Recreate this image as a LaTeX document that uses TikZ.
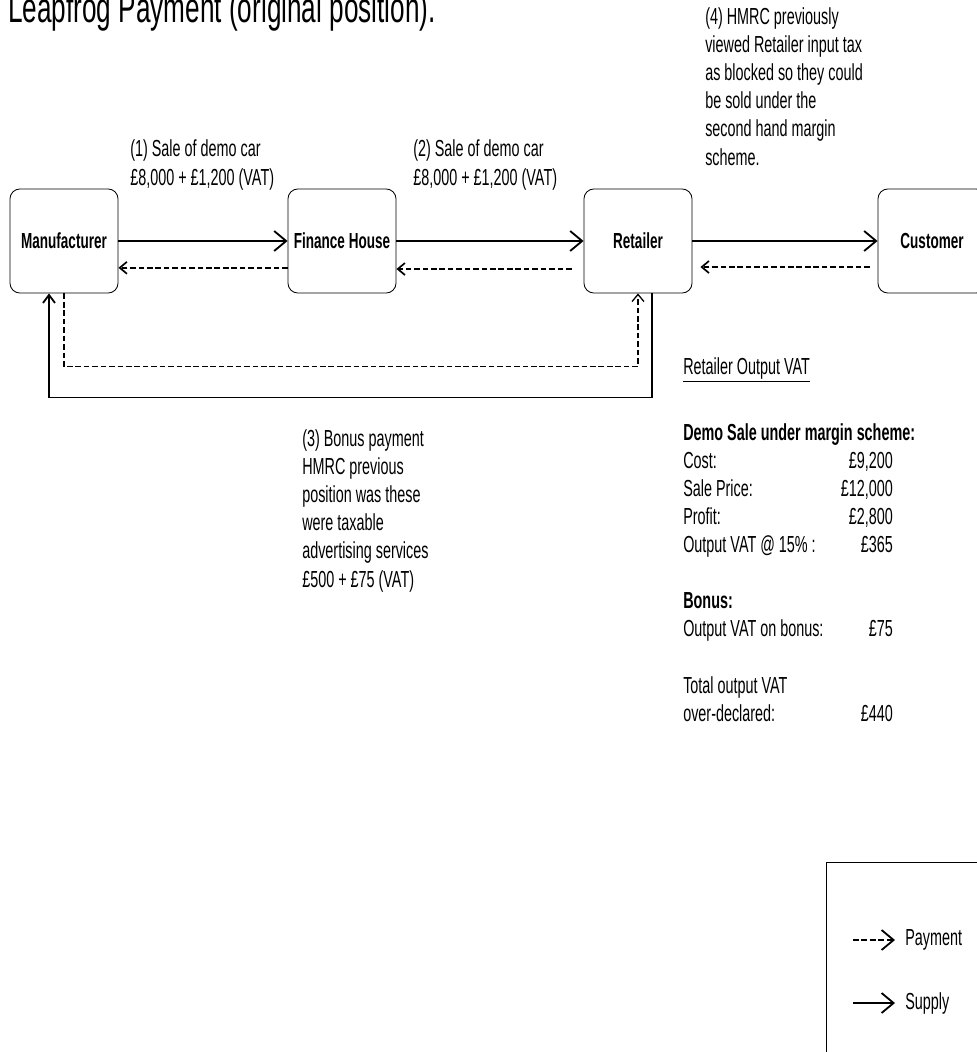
\documentclass[tikz,border=0pt]{standalone}
\usepackage{fontspec}
\setmainfont{Liberation Sans}[FakeStretch=0.62]
\usetikzlibrary{arrows.meta}

\begin{document}
\begin{tikzpicture}[x=0.025cm, y=-0.025cm,
  font=\fontsize{16.5}{20}\selectfont,
  party/.style={draw, line width=0.6pt, rounded corners=7pt, minimum width=2.7cm, minimum height=2.6cm, font=\fontsize{15.5}{18}\selectfont\bfseries},
  supply/.style={line width=1.3pt, -{Straight Barb[length=3mm,width=5mm]}},
  pay/.style={line width=1.2pt, dash pattern=on 4pt off 2pt, -{Straight Barb[length=1.8mm,width=3mm]}},
  note/.style={align=left, inner sep=0pt, anchor=base west}]
  \useasboundingbox (0,0) rectangle (977,1052);
  \node[note, font=\fontsize{30}{34}\selectfont] (title) at (8,22) {Leapfrog Payment (original position).};
  % parties
  \node[party] (man) at (64,241) {Manufacturer};
  \node[party] (fin) at (342,241) {Finance House};
  \node[party] (ret) at (638,241) {Retailer};
  \node[party] (cus) at (932,241) {Customer};
  \draw[supply] (man) -- (fin); \draw[supply] (fin) -- (ret); \draw[supply] (ret) -- (cus);
  \draw[pay] ([yshift=-0.67cm]fin.west) -- ([yshift=-0.67cm]man.east);
  \draw[pay, shorten <=3mm] ([yshift=-0.7cm]ret.west) -- ([yshift=-0.7cm]fin.east);
  \draw[pay, shorten <=2mm, shorten >=2mm] ([yshift=-0.65cm]cus.west) -- ([yshift=-0.65cm]ret.east);
  % bonus loop
  \draw[pay, line width=0.9pt] (man.south) -- ++(0,73) -| (ret.south);
  \draw[supply, -{Straight Barb[length=2mm,width=3mm]}] ([xshift=0.35cm]ret.south) -- ++(0,104) -| ([xshift=-0.375cm]man.south);
  % labels (base = last line)
  \node[note] (lbl1) at (130,185) {(1) Sale of demo car\\£8,000 + £1,200 (VAT)};
  \node[note] (lbl2) at (413,185) {(2) Sale of demo car\\£8,000 + £1,200 (VAT)};
  \node[note] (lbl4) at (705,165) {(4) HMRC previously\\viewed Retailer input tax\\as blocked so they could\\be sold under the\\second hand margin\\scheme.};
  \node[note] (lbl3) at (302,587) {(3) Bonus payment\\HMRC previous\\position was these\\were taxable\\advertising services\\£500 + £75 (VAT)};
  % retailer output VAT
  \node[note] (head) at (683,374) {\underline{Retailer Output VAT}};
  \node[note] (vat) at (683,440) {\begin{tabular*}{149pt}[t]{@{}l@{\extracolsep{\fill}}r@{}}
    \multicolumn{2}{@{}l@{}}{\makebox[0pt][l]{\bfseries Demo Sale under margin scheme:}}\\
    Cost: & £9,200\\
    Sale Price: & £12,000\\
    Profit: & £2,800\\
    Output VAT @ 15\% : & £365\\
    & \\
    \multicolumn{2}{@{}l@{}}{\bfseries Bonus:}\\
    Output VAT on bonus: & £75\\
    & \\
    Total output VAT & \\
    over-declared: & £440
  \end{tabular*}};
  % key
  \node[draw, line width=0.8pt, anchor=north west, minimum width=5cm, minimum height=6cm] (key) at (826,862) {};
  \coordinate (k1) at (853,940); \coordinate (k2) at (895,940);
  \coordinate (k3) at (853,1003); \coordinate (k4) at (895,1003);
  \draw[supply, dash pattern=on 4pt off 2pt] (k1) -- (k2);
  \draw[supply] (k3) -- (k4);
  \node[note, anchor=west] (kpay) at (905,940) {Payment};
  \node[note, anchor=west] (ksup) at (905,1003) {Supply};
\end{tikzpicture}
\end{document}
